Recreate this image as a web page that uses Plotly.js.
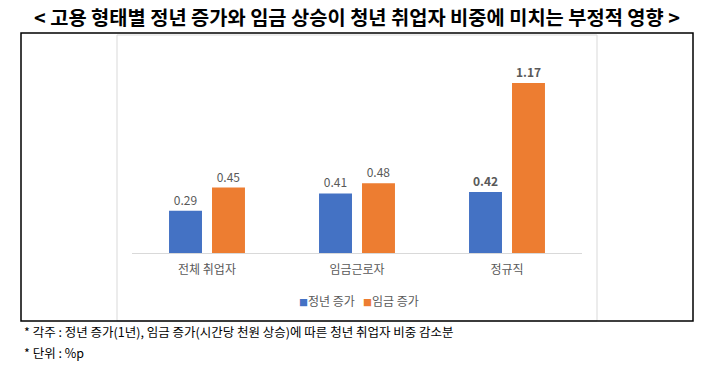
<!DOCTYPE html>
<html>
<head>
<meta charset="utf-8">
<script src="https://cdn.plot.ly/plotly-3.0.1.min.js"></script>
<style>html,body{margin:0;padding:0;background:#fff;}#chart{width:714px;height:380px;}</style>
</head>
<body>
<div id="chart"></div>
<script>
const categories = ['전체 취업자', '임금근로자', '정규직'];
const seriesNames = ['정년 증가', '임금 증가'];
const seriesColors = ['#4472C4', '#ED7D31'];
const retirementValues = [0.29, 0.41, 0.42];
const wageValues = [0.45, 0.48, 1.17];
const boldIndex = 2;

const titleText = '< 고용 형태별 정년 증가와 임금 상승이 청년 취업자 비중에 미치는 부정적 영향 >';
const noteLines = ['* 각주 : 정년 증가(1년), 임금 증가(시간당 천원 상승)에 따른 청년 취업자 비중 감소분', '* 단위 : %p'];

const W = 714, H = 380;
const M = {l: 132, r: 132, t: 64, b: 127};
const pw = W - M.l - M.r, ph = H - M.t - M.b;
const px = x => (x - M.l) / pw;
const py = y => (H - M.b - y) / ph;

const FONT = '"Noto Sans CJK KR", "Noto Sans", sans-serif';
function labels(vals) {
  return vals.map((v, i) => i === boldIndex ? '<b>' + v.toFixed(2) + '</b>' : v.toFixed(2));
}

const traces = [retirementValues, wageValues].map((vals, k) => ({
  type: 'bar', name: seriesNames[k], x: categories, y: vals, marker: {color: seriesColors[k]},
  text: labels(vals), textposition: 'outside', cliponaxis: false,
  textfont: {family: FONT, size: 12, color: '#595959'}, hoverinfo: 'none'
}));

const legendText = seriesNames.map((n, k) =>
  '<span style="color:' + seriesColors[k] + ';font-size:9px">■</span>' + n).join('&nbsp;&nbsp;&nbsp;');

const layout = {
  width: W, height: H,
  margin: M,
  paper_bgcolor: '#fff', plot_bgcolor: '#fff',
  font: {family: FONT},
  barmode: 'group', bargap: 0.427, bargroupgap: 0.233,
  title: {text: '<b>' + titleText + '</b>', x: 0.5, xanchor: 'center', y: 1 - 18 / H, yanchor: 'middle', yref: 'container',
          font: {family: FONT, size: 19.8, color: '#000'}},
  xaxis: {showline: true, linecolor: '#d9d9d9', linewidth: 1, ticks: '', showgrid: false, zeroline: false,
          ticklabelstandoff: 6,
          tickfont: {family: FONT, size: 12, color: '#595959'}, fixedrange: true},
  yaxis: {range: [0, 1.3], visible: false, showgrid: false, zeroline: false, fixedrange: true},
  showlegend: false,
  shapes: [
    {type: 'rect', xref: 'paper', yref: 'paper', x0: px(117), x1: px(597), y0: py(321), y1: py(35),
     line: {color: '#d9d9d9', width: 1}, layer: 'below'},
    {type: 'rect', xref: 'paper', yref: 'paper', x0: px(21), x1: px(693), y0: py(321), y1: py(33),
     line: {color: '#000', width: 1.5}, layer: 'below'}
  ],
  annotations: noteLines.map((t, i) => ({
    text: t, xref: 'paper', yref: 'paper', x: px(22), y: py(331 + i * 21), xanchor: 'left', yanchor: 'middle',
    showarrow: false, font: {family: FONT, size: 12.5, color: '#000'}
  })).concat([{
    text: legendText, xref: 'paper', yref: 'paper', x: px(359), y: py(300), xanchor: 'center', yanchor: 'middle',
    showarrow: false, font: {family: FONT, size: 12, color: '#595959'}
  }])
};

Plotly.newPlot('chart', traces, layout, {displayModeBar: false, staticPlot: true});
</script>
</body>
</html>
